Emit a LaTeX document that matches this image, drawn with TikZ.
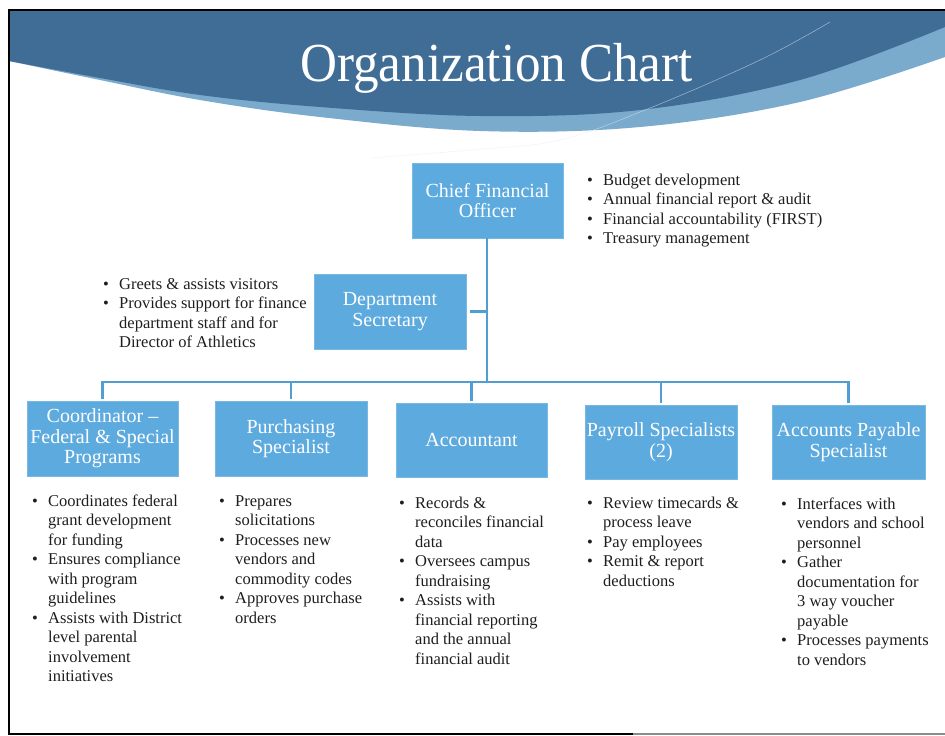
\documentclass[tikz,border=0pt]{standalone}
\usepackage{fontspec}
\setmainfont{Liberation Serif}
\usepackage{graphicx}
\usetikzlibrary{calc}
\definecolor{bandDark}{RGB}{64,109,150}
\definecolor{bandLight}{RGB}{122,170,204}
\definecolor{boxblue}{RGB}{92,170,222}
\definecolor{boxedge}{RGB}{120,185,228}
\definecolor{connblue}{RGB}{80,158,212}
\definecolor{txt}{RGB}{30,30,30}
\newcommand{\bu}{\makebox[17pt][l]{\hspace{1pt}\textbullet}}
\newcommand{\ct}{\hspace*{17pt}}
\newcommand{\fl}{\rule{0pt}{14pt}}
\tikzset{
  rolebox/.style={fill=boxblue, draw=boxedge, line width=0.6pt, inner sep=0pt,
    align=center, text=white, font=\fontsize{20}{20.5}\selectfont},
  duties/.style={anchor=north west, inner sep=0pt, align=left, text=txt,
    font=\fontsize{16.5}{19.5}\selectfont},
  conn/.style={draw=connblue, line width=2.6pt},
}
\begin{document}
\begin{tikzpicture}[x=1pt,y=-1pt]
\useasboundingbox (0,0) rectangle (945,736);
\fill[white] (0,0) rectangle (945,736);
% banner
\fill[bandLight] (9,11) -- (945,11) -- plot[smooth, tension=0.6] coordinates {(945,57) (800,102) (640,127) (480,131) (320,117) (200,100) (100,80) (9,61)} -- cycle;
\fill[bandDark] (9,11) -- (945,11) -- plot[smooth, tension=0.6] coordinates {(945,27) (800,80) (640,110) (480,116) (320,107) (200,95) (100,78) (9,61)} -- cycle;
\draw[white!80!bandLight, line width=0.5pt, opacity=0.6] plot[smooth, tension=0.6] coordinates {(370,158) (470,150) (560,140) (650,108) (760,60) (830,22)};
\node[anchor=base, text=white, font=\fontsize{55}{55}\selectfont, inner sep=0pt] (title) at (496.5,81) {\scalebox{0.93}[1]{Organization Chart}};
% frame
\draw[black, line width=2.4pt] (945,10) -- (9,10) -- (9,734) -- (633,734);
\draw[black!45, line width=2.4pt] (633,734) -- (945,734);
% boxes
\node[rolebox, minimum width=151pt, minimum height=75pt] (cfo) at (487.5,200.5) {Chief Financial\\Officer};
\node[rolebox, minimum width=152pt, minimum height=75pt] (sec) at (390,311.5) {Department\\Secretary};
\node[rolebox, minimum width=151pt, minimum height=75pt] (coord) at (102.5,438.5) {Coordinator --\\Federal \& Special\\Programs};
\node[rolebox, minimum width=152pt, minimum height=75pt] (purch) at (291,438.5) {Purchasing\\Specialist};
\node[rolebox, minimum width=151pt, minimum height=74pt] (acct) at (471.5,440) {Accountant};
\node[rolebox, minimum width=152pt, minimum height=74pt] (pay) at (661,442) {Payroll Specialists\\(2)};
\node[rolebox, minimum width=153pt, minimum height=74pt] (ap) at (848.5,442) {Accounts Payable\\Specialist};
% connectors
\coordinate (hub) at (487,382);
\draw[conn] (cfo.south -| hub) -- (hub);
\draw[conn, shorten <=4pt] (sec.east) -- (sec.east -| hub);
\draw[conn, shorten >=2pt] (hub) -| (coord.north);
\draw[conn, shorten >=2pt] (hub) -| (purch.north);
\draw[conn, shorten >=2pt] (hub) -| (acct.north);
\draw[conn, shorten >=2pt] (hub) -| (pay.north);
\draw[conn, shorten >=2pt] (hub) -| (ap.north);
% duties
\node[duties] (cfol) at (586,171) {\fl\bu Budget development\\\bu Annual financial report \& audit\\\bu Financial accountability (FIRST)\\\bu Treasury management};
\node[duties] (secl) at (102,275) {\fl\bu Greets \& assists visitors\\\bu Provides support for finance\\\ct department staff and for\\\ct Director of Athletics};
\node[duties] (coordl) at (31,492) {\fl\bu Coordinates federal\\\ct grant development\\\ct for funding\\\bu Ensures compliance\\\ct with program\\\ct guidelines\\\bu Assists with District\\\ct level parental\\\ct involvement\\\ct initiatives};
\node[duties] (purchl) at (218,492) {\fl\bu Prepares\\\ct solicitations\\\bu Processes new\\\ct vendors and\\\ct commodity codes\\\bu Approves purchase\\\ct orders};
\node[duties] (acctl) at (398,494) {\fl\bu Records \&\\\ct reconciles financial\\\ct data\\\bu Oversees campus\\\ct fundraising\\\bu Assists with\\\ct financial reporting\\\ct and the annual\\\ct financial audit};
\node[duties] (payl) at (586,494) {\fl\bu Review timecards \&\\\ct process leave\\\bu Pay employees\\\bu Remit \& report\\\ct deductions};
\node[duties] (apl) at (780,495) {\fl\bu Interfaces with\\\ct vendors and school\\\ct personnel\\\bu Gather\\\ct documentation for\\\ct 3 way voucher\\\ct payable\\\bu Processes payments\\\ct to vendors};
\end{tikzpicture}
\end{document}
